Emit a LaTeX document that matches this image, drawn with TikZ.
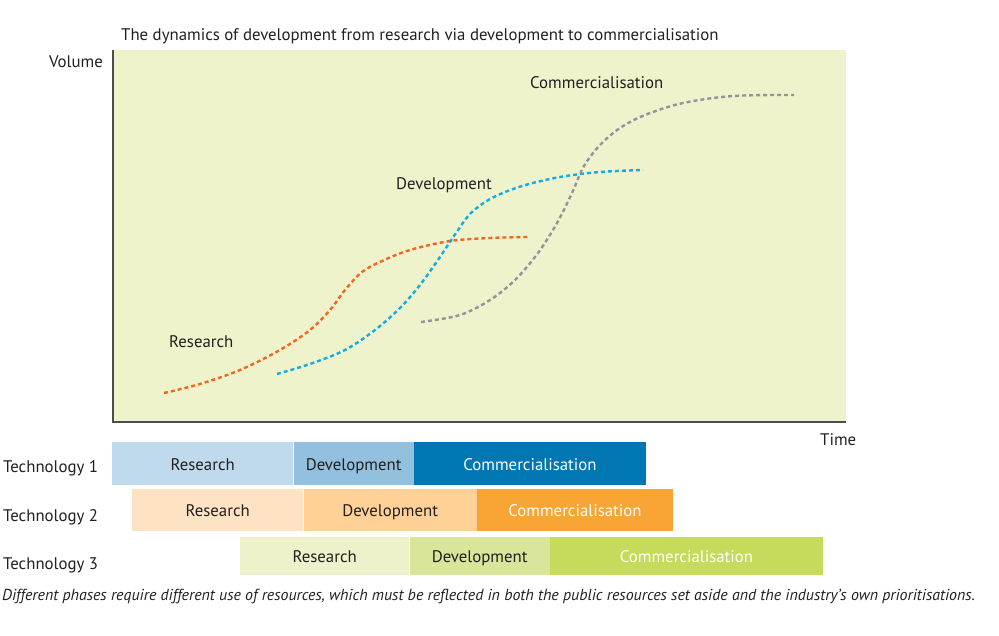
\documentclass[tikz,border=0pt]{standalone}
\usepackage{fontspec}
\setmainfont{PT Sans}
\usetikzlibrary{positioning}

\definecolor{txt}{HTML}{231F20}
\definecolor{plotbg}{HTML}{EEF3CC}
\definecolor{axis}{HTML}{4D4D4F}
\definecolor{resorange}{HTML}{F26522}
\definecolor{devcyan}{HTML}{13ADE5}
\definecolor{comgray}{HTML}{939598}
\definecolor{oneR}{HTML}{BFDAEC}
\definecolor{oneD}{HTML}{93C0DE}
\definecolor{oneC}{HTML}{0077B3}
\definecolor{twoR}{HTML}{FDE3C4}
\definecolor{twoD}{HTML}{FFD196}
\definecolor{twoC}{HTML}{F8A535}
\definecolor{threeR}{HTML}{EDF2CB}
\definecolor{threeD}{HTML}{D9E59A}
\definecolor{threeC}{HTML}{C6DB5B}

\begin{document}
\begin{tikzpicture}[x=1pt,y=-1pt,
  lbl/.style={font=\fontsize{16.8}{20}\selectfont, text=txt, inner sep=0pt},
  bar/.style={lbl, rectangle, anchor=west, inner sep=0pt, text height=16.5pt, text depth=3.5pt},
  curve/.style={line width=2.4pt, dash pattern=on 4pt off 3pt}]
\useasboundingbox (0,0) rectangle (999,636);

% plot area
\fill[plotbg] (113,50) rectangle (846,422);
\draw[axis, line width=1.5pt] (113,50) -- (113,422) -- (846,422);

\node[lbl, anchor=base west] (title) at (121,41) {The dynamics of development from research via development to commercialisation};
\node[lbl, anchor=base east] (volume) at (103,68) {Volume};
\node[lbl, anchor=base west] (time) at (820,445) {Time};

% curves
\draw[curve, resorange] plot[smooth, tension=0.55] coordinates {(164,393) (200,384) (240,370) (280,350) (310,330) (330,310) (345,290) (362,272) (382,261) (410,250) (450,241) (490,238) (528,237)};
\draw[curve, devcyan] plot[smooth, tension=0.55] coordinates {(277,374) (310,364) (345,350) (375,330) (400,308) (420,285) (440,257) (456,233) (471,213) (492,198) (522,186) (560,177) (600,172) (643,170)};
\draw[curve, comgray] plot[smooth, tension=0.55] coordinates {(421,322) (460,315) (490,300) (515,280) (538,253) (557,223) (572,193) (584,166) (600,145) (620,128) (645,115) (683,103) (733,96) (794,95)};

\node[lbl, anchor=base west] (reslbl) at (169,348) {Research};
\node[lbl, anchor=base west] (devlbl) at (396,190) {Development};
\node[lbl, anchor=base west] (comlbl) at (530,89) {Commercialisation};

% technology rows
\node[lbl, anchor=base west] (tech1) at (3,472) {Technology 1};
\node[lbl, anchor=base west] (tech2) at (3,521) {Technology 2};
\node[lbl, anchor=base west] (tech3) at (3,569) {Technology 3};

\node[bar, fill=oneR, minimum width=181pt, minimum height=43pt] (oneres) at (112,463.5) {Research};
\node[bar, fill=oneD, minimum width=120pt, minimum height=43pt] (onedev) at (oneres.east) {Development};
\node[bar, fill=oneC, minimum width=232pt, minimum height=43pt, text=white] (onecom) at (onedev.east) {Commercialisation};

\node[bar, fill=twoR, minimum width=171pt, minimum height=42pt] (twores) at (132,510) {Research};
\node[bar, fill=twoD, minimum width=173pt, minimum height=42pt] (twodev) at (twores.east) {Development};
\node[bar, fill=twoC, minimum width=196pt, minimum height=42pt, text=white] (twocom) at (twodev.east) {Commercialisation};

\node[bar, fill=threeR, minimum width=169pt, minimum height=38pt] (threeres) at (240,556) {Research};
\node[bar, fill=threeD, minimum width=140pt, minimum height=38pt] (threedev) at (threeres.east) {Development};
\node[bar, fill=threeC, minimum width=273pt, minimum height=38pt, text=white] (threecom) at (threedev.east) {Commercialisation};

\node[lbl, anchor=base west, font=\fontsize{15.9}{19}\selectfont\itshape] (caption) at (2,600) {Different phases require different use of resources, which must be reflected in both the public resources set aside and the industry’s own prioritisations.};
\end{tikzpicture}
\end{document}
